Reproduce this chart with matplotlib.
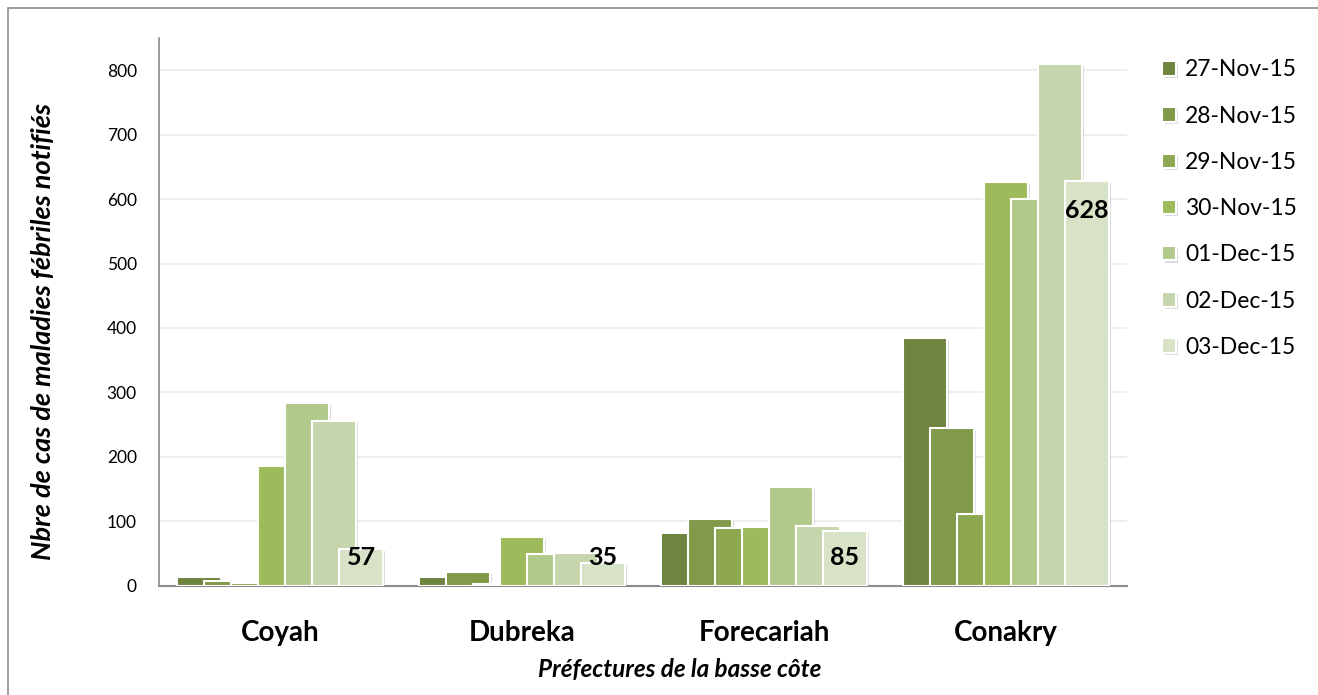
import matplotlib
matplotlib.use("Agg")
import matplotlib.pyplot as plt
import matplotlib.patheffects as pe
from matplotlib.patches import Rectangle
import numpy as np

plt.rcParams['font.family'] = ['Lato', 'DejaVu Sans']

# Data
prefectures = ["Coyah", "Dubreka", "Forecariah", "Conakry"]
dates = ["27-Nov-15", "28-Nov-15", "29-Nov-15", "30-Nov-15",
         "01-Dec-15", "02-Dec-15", "03-Dec-15"]
nov27 = [13, 14, 82, 385]
nov28 = [7, 22, 104, 244]
nov29 = [4, 3, 89, 112]
nov30 = [186, 76, 91, 627]
dec01 = [284, 49, 153, 600]
dec02 = [256, 51, 92, 810]
dec03 = [57, 35, 85, 628]
series = [nov27, nov28, nov29, nov30, dec01, dec02, dec03]

colors = ["#6f843e", "#809a4a", "#8ea852", "#9dbb5a",
          "#b2c98c", "#c6d6ac", "#d8e2c6"]

W, H = 1318, 695
fig = plt.figure(figsize=(W / 100, H / 100), dpi=100)
ax = fig.add_axes([159 / W, 1 - 585.7 / H, (1127 - 159) / W, (585.7 - 38) / H])

x = np.arange(len(prefectures))
bar_w = 0.182
step = 0.1116
shadow = [pe.SimplePatchShadow(offset=(1.5, -1.5), shadow_rgbFace="#999999", alpha=0.35), pe.Normal()]

for i, (vals, c, lab) in enumerate(zip(series, colors, dates)):
    pos = x + (i - 3) * step
    bars = ax.bar(pos, vals, width=bar_w, color=c, edgecolor="white",
                  linewidth=1.5, label=lab, zorder=3 + i)
    for b in bars:
        b.set_path_effects(shadow)

# labels on the last day
last_pos = x + 3 * step
for xp, v in zip(last_pos, dec03):
    ax.text(xp, max(v - 45, 43), str(v), ha="center", va="center",
            fontsize=18, fontweight="bold", color="black", zorder=20)

ax.set_xlim(-0.5, len(prefectures) - 0.5)
ax.set_ylim(0, 850)
ax.set_yticks(range(0, 801, 100))
ax.set_xticks(x)
ax.set_xticklabels(prefectures, fontsize=20, fontweight="bold")
ax.tick_params(axis="y", length=0, pad=16, labelsize=12.5)
ax.tick_params(axis="x", length=0, pad=25)
ax.grid(axis="y", color="#ebebeb", linewidth=1.2, zorder=0)
ax.set_axisbelow(True)
for s in ["top", "right"]:
    ax.spines[s].set_visible(False)
ax.spines["left"].set_color("#8c8c8c")
ax.spines["bottom"].set_color("#8c8c8c")
ax.spines["left"].set_linewidth(1.2)
ax.spines["bottom"].set_linewidth(1.5)

fig.text(43 / W, 1 - 332 / H, "Nbre de cas de maladies fébriles notifiés",
         rotation=90, ha="center", va="center", fontsize=19.5,
         fontweight="bold", fontstyle="italic")
fig.text(680 / W, 1 - 669 / H, "Préfectures de la basse côte",
         ha="center", va="center", fontsize=17.5,
         fontweight="bold", fontstyle="italic")

fig.legend(loc="upper left", bbox_to_anchor=(1151 / W, 1 - 48 / H),
           frameon=False, fontsize=16.5, handlelength=0.6, handleheight=0.6,
           handletextpad=0.4, labelspacing=1.1, borderpad=0)

fig.patches.append(Rectangle((8 / W, -0.05), 1.1, 1 - 8 / H + 0.05,
                             transform=fig.transFigure, fill=False,
                             edgecolor="#8c8c8c", linewidth=1.2))

fig.savefig("out.png", dpi=100)
